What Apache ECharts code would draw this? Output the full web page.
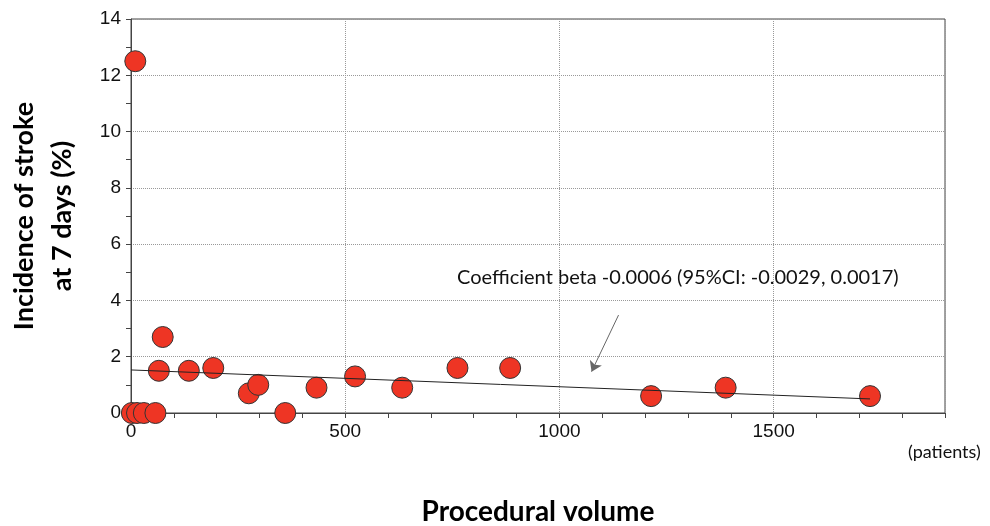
<!DOCTYPE html>
<html>
<head>
<meta charset="utf-8">
<script src="https://cdn.jsdelivr.net/npm/echarts@6/dist/echarts.min.js"></script>
<style>
  html, body { margin: 0; padding: 0; background: #fff; }
  #main { width: 990px; height: 526px; }
</style>
</head>
<body>
<div id="main"></div>
<script>
// procedural volume (patients) vs incidence of stroke at 7 days (%)
const volume     = [2, 10, 14, 30, 57, 65, 74, 135, 192, 275, 297, 360, 433, 523, 633, 762, 885, 1214, 1388, 1725];
const strokeRate = [0, 12.5, 0, 0, 0, 1.5, 2.7, 1.5, 1.6, 0.7, 1.0, 0, 0.9, 1.3, 0.9, 1.6, 1.6, 0.6, 0.9, 0.6];

// regression line end points
const fitX = [0, 1725];
const fitY = [1.53, 0.50];

// annotation arrow (data coords)
const arrowFrom = [1138, 3.48];
const arrowTo = [1075, 1.47];

const xTicks = { min: 0, max: 1900, minor: 100, major: 500 };
const yTicks = { min: 0, max: 14, major: 2 };

const points = volume.map((v, i) => [v, strokeRate[i]]);
const fitLine = fitX.map((v, i) => [v, fitY[i]]);

const tickFont = { fontFamily: 'Liberation Sans', fontSize: 19, color: '#111' };
const axisColor = '#444';

const myChart = echarts.init(document.getElementById('main'));
myChart.setOption({
    animation: false,
    grid: {
        left: 131, top: 19, right: 45, bottom: 113,
        outerBoundsMode: 'none', containLabel: false,
        show: true, borderColor: axisColor, borderWidth: 1
    },
    xAxis: [{
        type: 'value',
        min: xTicks.min, max: xTicks.max, interval: xTicks.minor,
        axisLine: { lineStyle: { color: axisColor, width: 1 } },
        axisTick: { show: true, length: 5, lineStyle: { color: axisColor } },
        axisLabel: Object.assign({
            margin: 9,
            formatter: v => (v % xTicks.major === 0 && v < xTicks.max) ? String(v) : ''
        }, tickFont),
        splitLine: { show: false },
        name: 'Procedural volume',
        nameLocation: 'middle',
        nameGap: 85,
        nameTextStyle: { fontFamily: 'Lato', fontWeight: 'bold', fontSize: 28, color: '#000' }
    }, {
        type: 'value',
        min: xTicks.min, max: xTicks.max, interval: xTicks.major,
        position: 'bottom',
        axisLine: { show: false }, axisTick: { show: false }, axisLabel: { show: false },
        splitLine: { show: true, lineStyle: { color: '#999', type: 'dotted', width: 1 } }
    }],
    yAxis: {
        type: 'value',
        min: yTicks.min, max: yTicks.max, interval: yTicks.major,
        axisLine: { show: true, lineStyle: { color: axisColor, width: 1 } },
        axisTick: { show: true, length: 5, lineStyle: { color: axisColor } },
        minorTick: { show: true, splitNumber: 2, length: 5, lineStyle: { color: axisColor } },
        axisLabel: Object.assign({ margin: 10 }, tickFont),
        splitLine: { show: true, lineStyle: { color: '#999', type: 'dotted', width: 1 } },
        name: 'Incidence of stroke\nat 7 days (%)',
        nameLocation: 'middle',
        nameRotate: 90,
        nameGap: 50,
        nameTextStyle: { fontFamily: 'Lato', fontWeight: 'bold', fontSize: 27, color: '#000', lineHeight: 38 }
    },
    series: [{
        type: 'scatter',
        data: points,
        symbolSize: 21,
        itemStyle: { color: '#ee3524', borderColor: '#333', borderWidth: 1, opacity: 1 },
        z: 2
    }, {
        type: 'line',
        data: fitLine,
        symbol: 'none',
        lineStyle: { color: '#222', width: 1 },
        z: 3,
        markLine: {
            silent: true,
            symbol: ['none', 'arrow'],
            symbolSize: 10,
            label: { show: false },
            lineStyle: { color: '#666', type: 'solid', width: 1 },
            data: [[{ coord: arrowFrom }, { coord: arrowTo }]]
        }
    }],
    graphic: [{
        type: 'text',
        left: 457, top: 268,
        style: {
            text: 'Coefficient beta -0.0006 (95%CI: -0.0029, 0.0017)',
            font: '20px Lato', fill: '#111'
        }
    }, {
        type: 'text',
        left: 908, top: 443,
        style: { text: '(patients)', font: '18px Lato', fill: '#111' }
    }]
});
</script>
</body>
</html>
